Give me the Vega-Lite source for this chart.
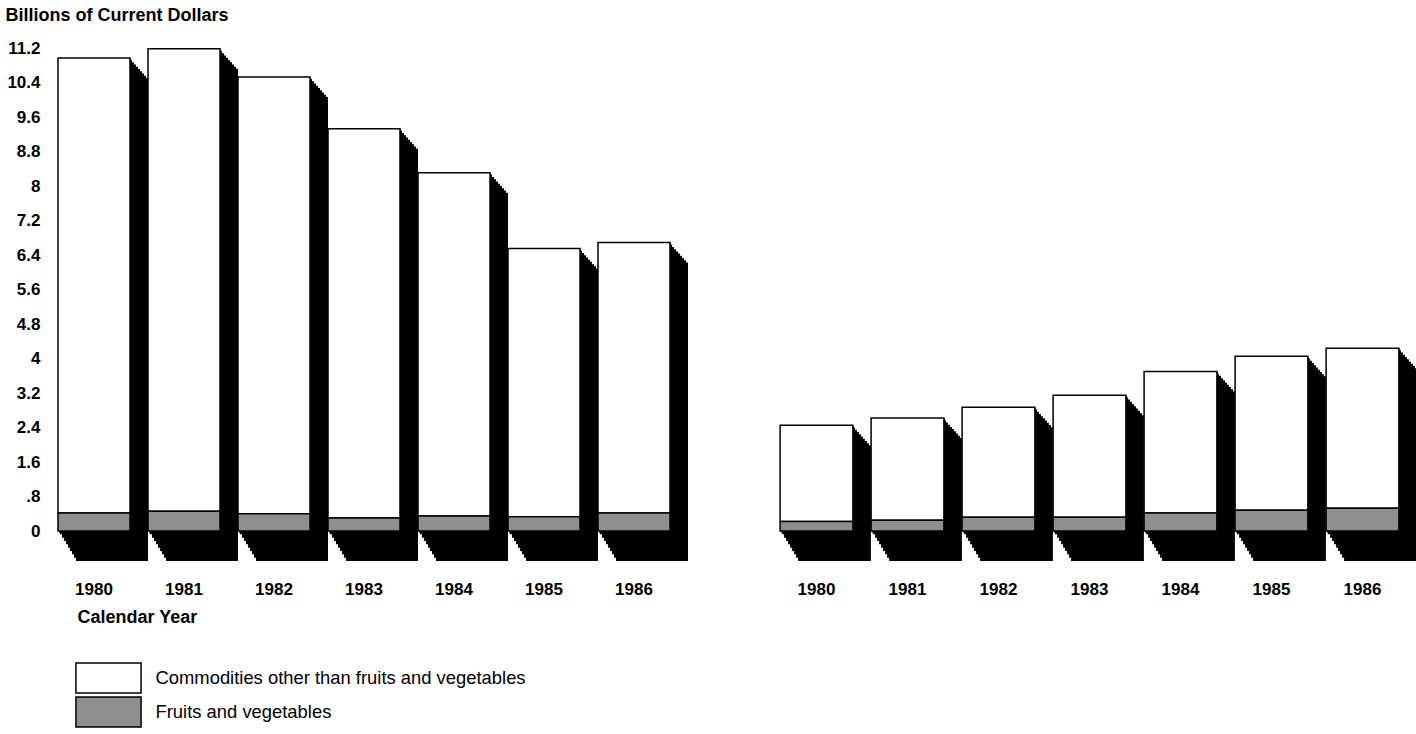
{
  "$schema": "https://vega.github.io/schema/vega-lite/v6.json",
  "background": "white",
  "padding": {"left": 5, "top": 6, "right": 0, "bottom": 0},
  "bounds": "flush",
  "spacing": 92,
  "config": {
    "view": {"stroke": null},
    "font": "Liberation Sans",
    "axis": {"grid": false, "domain": false, "ticks": false, "labelOverlap": false, "labelFont": "Liberation Sans", "labelFontWeight": "bold", "labelFontSize": 17, "labelColor": "black", "titleColor": "black", "titleFont": "Liberation Sans"},
    "legend": {"orient": "none", "legendX": 43.5, "legendY": 614, "title": null, "symbolType": "M-2.17,-1H2.17V1H-2.17Z", "symbolSize": 900, "symbolStrokeColor": "black", "symbolStrokeWidth": 1.5, "symbolOpacity": 1, "labelFont": "Liberation Sans", "labelFontSize": 18.4, "labelColor": "black", "labelOffset": 31, "rowPadding": -2, "labelLimit": 600}
  },
  "datasets": {
    "left": [
      {"year": "1980", "category": "Commodities other than fruits and vegetables", "value": 10.55},
      {"year": "1981", "category": "Commodities other than fruits and vegetables", "value": 10.72},
      {"year": "1982", "category": "Commodities other than fruits and vegetables", "value": 10.13},
      {"year": "1983", "category": "Commodities other than fruits and vegetables", "value": 9.03},
      {"year": "1984", "category": "Commodities other than fruits and vegetables", "value": 7.96},
      {"year": "1985", "category": "Commodities other than fruits and vegetables", "value": 6.22},
      {"year": "1986", "category": "Commodities other than fruits and vegetables", "value": 6.27},
      {"year": "1980", "category": "Fruits and vegetables", "value": 0.42},
      {"year": "1981", "category": "Fruits and vegetables", "value": 0.46},
      {"year": "1982", "category": "Fruits and vegetables", "value": 0.40},
      {"year": "1983", "category": "Fruits and vegetables", "value": 0.30},
      {"year": "1984", "category": "Fruits and vegetables", "value": 0.35},
      {"year": "1985", "category": "Fruits and vegetables", "value": 0.33},
      {"year": "1986", "category": "Fruits and vegetables", "value": 0.42}
    ],
    "right": [
      {"year": "1980", "category": "Commodities other than fruits and vegetables", "value": 2.23},
      {"year": "1981", "category": "Commodities other than fruits and vegetables", "value": 2.37},
      {"year": "1982", "category": "Commodities other than fruits and vegetables", "value": 2.55},
      {"year": "1983", "category": "Commodities other than fruits and vegetables", "value": 2.83},
      {"year": "1984", "category": "Commodities other than fruits and vegetables", "value": 3.28},
      {"year": "1985", "category": "Commodities other than fruits and vegetables", "value": 3.57},
      {"year": "1986", "category": "Commodities other than fruits and vegetables", "value": 3.71},
      {"year": "1980", "category": "Fruits and vegetables", "value": 0.22},
      {"year": "1981", "category": "Fruits and vegetables", "value": 0.25},
      {"year": "1982", "category": "Fruits and vegetables", "value": 0.32},
      {"year": "1983", "category": "Fruits and vegetables", "value": 0.32},
      {"year": "1984", "category": "Fruits and vegetables", "value": 0.42},
      {"year": "1985", "category": "Fruits and vegetables", "value": 0.48},
      {"year": "1986", "category": "Fruits and vegetables", "value": 0.53}
    ]
  },
  "resolve": {"scale": {"y": "shared", "color": "shared"}},
  "hconcat": [
    {
      "width": 630,
      "height": 483,
      "data": {"name": "left"},
      "encoding": {
        "x": {"field": "year", "type": "ordinal", "scale": {"paddingInner": 0.2, "paddingOuter": 0.1},
              "axis": {"labelAngle": 0, "labelPadding": 50, "title": "Calendar Year", "titleFontSize": 18, "titleFontWeight": "bold", "titleAlign": "left", "titleBaseline": "middle", "titleX": 28, "titleY": 86}},
        "y": {"aggregate": "sum", "field": "value", "type": "quantitative", "stack": null,
              "scale": {"domain": [0, 11.2], "nice": false, "zero": true},
              "axis": {"values": [0, 0.8, 1.6, 2.4, 3.2, 4, 4.8, 5.6, 6.4, 7.2, 8, 8.8, 9.6, 10.4, 11.2],
                       "tickCount": 15, "labelOverlap": false,
                       "labelExpr": "datum.value == 0.8 ? '.8' : replace(format(datum.value, '.1f'), '.0', '')",
                       "labelPadding": 9,
                       "title": "Billions of Current Dollars", "titleAngle": 0, "titleAlign": "left", "titleBaseline": "top", "titleX": -44, "titleY": -42, "titleFontSize": 18, "titleFontWeight": "bold"}},
        "y2": {"datum": 0}
      },
      "layer": [
        {"mark": {"type": "bar", "color": "black", "xOffset": 1, "yOffset": 1.1, "y2Offset": 1.7}},
        {"mark": {"type": "bar", "color": "black", "xOffset": 2, "yOffset": 2.2, "y2Offset": 3.3}},
        {"mark": {"type": "bar", "color": "black", "xOffset": 4, "yOffset": 4.4, "y2Offset": 6.7}},
        {"mark": {"type": "bar", "color": "black", "xOffset": 6, "yOffset": 6.7, "y2Offset": 10}},
        {"mark": {"type": "bar", "color": "black", "xOffset": 8, "yOffset": 8.9, "y2Offset": 13.3}},
        {"mark": {"type": "bar", "color": "black", "xOffset": 10, "yOffset": 11.1, "y2Offset": 16.7}},
        {"mark": {"type": "bar", "color": "black", "xOffset": 12, "yOffset": 13.3, "y2Offset": 20}},
        {"mark": {"type": "bar", "color": "black", "xOffset": 14, "yOffset": 15.6, "y2Offset": 23.3}},
        {"mark": {"type": "bar", "color": "black", "xOffset": 16, "yOffset": 17.8, "y2Offset": 26.7}},
        {"mark": {"type": "bar", "color": "black", "xOffset": 18, "yOffset": 20, "y2Offset": 30}},
        {
          "mark": {"type": "bar", "stroke": "black", "strokeWidth": 1.5},
          "encoding": {
            "y": {"field": "value", "type": "quantitative", "stack": "zero"},
            "y2": null,
            "color": {"field": "category", "type": "nominal",
                      "scale": {"domain": ["Commodities other than fruits and vegetables", "Fruits and vegetables"], "range": ["white", "#8f8f8f"]}},
            "order": {"field": "category", "sort": "descending"}
          }
        }
      ]
    },
    {
      "width": 637,
      "height": 483,
      "data": {"name": "right"},
      "encoding": {
        "x": {"field": "year", "type": "ordinal", "scale": {"paddingInner": 0.2, "paddingOuter": 0.1},
              "axis": {"labelAngle": 0, "labelPadding": 50, "title": null}},
        "y": {"aggregate": "sum", "field": "value", "type": "quantitative", "stack": null,
              "scale": {"domain": [0, 11.2], "nice": false, "zero": true},
              "axis": null},
        "y2": {"datum": 0}
      },
      "layer": [
        {"mark": {"type": "bar", "color": "black", "xOffset": 1, "yOffset": 1.1, "y2Offset": 1.7}},
        {"mark": {"type": "bar", "color": "black", "xOffset": 2, "yOffset": 2.2, "y2Offset": 3.3}},
        {"mark": {"type": "bar", "color": "black", "xOffset": 4, "yOffset": 4.4, "y2Offset": 6.7}},
        {"mark": {"type": "bar", "color": "black", "xOffset": 6, "yOffset": 6.7, "y2Offset": 10}},
        {"mark": {"type": "bar", "color": "black", "xOffset": 8, "yOffset": 8.9, "y2Offset": 13.3}},
        {"mark": {"type": "bar", "color": "black", "xOffset": 10, "yOffset": 11.1, "y2Offset": 16.7}},
        {"mark": {"type": "bar", "color": "black", "xOffset": 12, "yOffset": 13.3, "y2Offset": 20}},
        {"mark": {"type": "bar", "color": "black", "xOffset": 14, "yOffset": 15.6, "y2Offset": 23.3}},
        {"mark": {"type": "bar", "color": "black", "xOffset": 16, "yOffset": 17.8, "y2Offset": 26.7}},
        {"mark": {"type": "bar", "color": "black", "xOffset": 18, "yOffset": 20, "y2Offset": 30}},
        {
          "mark": {"type": "bar", "stroke": "black", "strokeWidth": 1.5},
          "encoding": {
            "y": {"field": "value", "type": "quantitative", "stack": "zero", "axis": null},
            "y2": null,
            "color": {"field": "category", "type": "nominal",
                      "scale": {"domain": ["Commodities other than fruits and vegetables", "Fruits and vegetables"], "range": ["white", "#8f8f8f"]}},
            "order": {"field": "category", "sort": "descending"}
          }
        }
      ]
    }
  ]
}
